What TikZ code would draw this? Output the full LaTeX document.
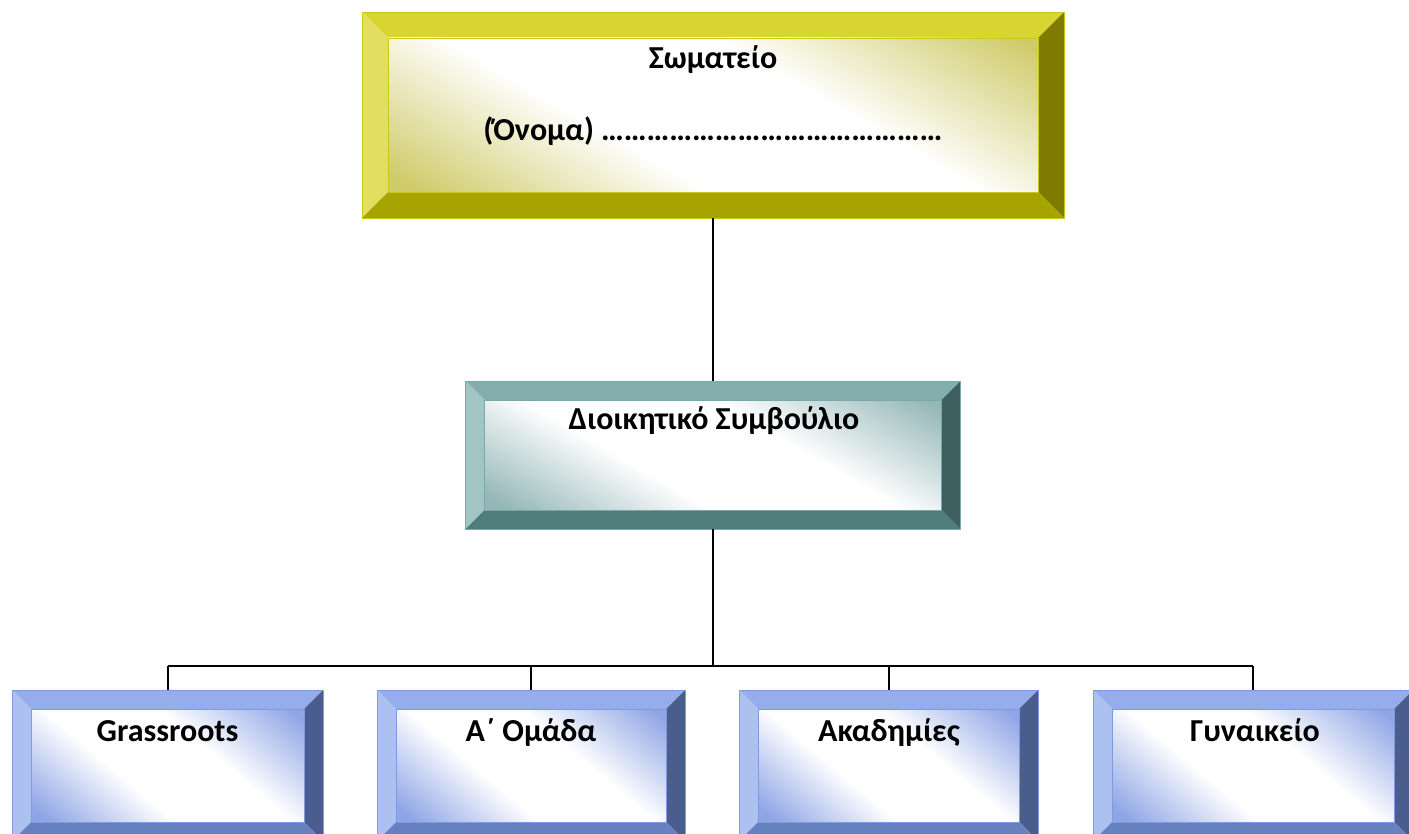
\documentclass[tikz,border=0pt]{standalone}
\usepackage{fontspec}
\setmainfont{Carlito}
\usetikzlibrary{calc}
\definecolor{yTop}{HTML}{D9D530}
\definecolor{yLeft}{HTML}{E2DE62}
\definecolor{yRight}{HTML}{7F7B00}
\definecolor{yBot}{HTML}{A7A300}
\definecolor{yBord}{HTML}{C9C71A}
\definecolor{yTint}{HTML}{CFCB6A}
\definecolor{tTop}{HTML}{84AEAE}
\definecolor{tLeft}{HTML}{A1C4C4}
\definecolor{tRight}{HTML}{3E5F5F}
\definecolor{tBot}{HTML}{507C7C}
\definecolor{tBord}{HTML}{7AA8A8}
\definecolor{tTint}{HTML}{93B6B6}
\definecolor{bTop}{HTML}{95ADEA}
\definecolor{bLeft}{HTML}{ADC1F0}
\definecolor{bRight}{HTML}{4A5D8E}
\definecolor{bBot}{HTML}{6681C0}
\definecolor{bBord}{HTML}{7F9BE0}
\definecolor{bTint}{HTML}{8FA6E6}
\pgfdeclarehorizontalshading{yshade}{100bp}{color(0bp)=(yTint); color(18bp)=(yTint); color(40bp)=(white); color(60bp)=(white); color(83bp)=(yTint); color(100bp)=(yTint)}
\pgfdeclarehorizontalshading{tshade}{100bp}{color(0bp)=(tTint); color(18bp)=(tTint); color(40bp)=(white); color(60bp)=(white); color(83bp)=(tTint); color(100bp)=(tTint)}
\pgfdeclarehorizontalshading{bshade}{100bp}{color(0bp)=(bTint); color(18bp)=(bTint); color(40bp)=(white); color(60bp)=(white); color(83bp)=(bTint); color(100bp)=(bTint)}
\tikzset{
  bevbox/.style n args={8}{
    rectangle, inner sep=0pt, draw=#7, line width=0.6pt,
    path picture={
      \path (path picture bounding box.south west) coordinate (oSW)
            (path picture bounding box.north east) coordinate (oNE)
            (path picture bounding box.north west) coordinate (oNW)
            (path picture bounding box.south east) coordinate (oSE);
      \path ([shift={({#1*0.75pt},{#1*0.75pt})}]oSW) coordinate (iSW)
            ([shift={({-#1*0.75pt},{-#1*0.75pt})}]oNE) coordinate (iNE)
            ([shift={({#1*0.75pt},{-#1*0.75pt})}]oNW) coordinate (iNW)
            ([shift={({-#1*0.75pt},{#1*0.75pt})}]oSE) coordinate (iSE);
      \fill[#2] (oNW) -- (oNE) -- (iNE) -- (iNW) -- cycle;
      \fill[#3] (oNW) -- (iNW) -- (iSW) -- (oSW) -- cycle;
      \fill[#4] (oNE) -- (oSE) -- (iSE) -- (iNE) -- cycle;
      \fill[#5] (oSW) -- (iSW) -- (iSE) -- (oSE) -- cycle;
      \shade[shading=#6, shading angle=#8] (iSW) rectangle (iNE);
      \draw[#7, line width=0.5pt] (iSW) rectangle (iNE);
    }
  },
  ybox/.style={bevbox={26}{yTop}{yLeft}{yRight}{yBot}{yshade}{yBord}{60}},
  tbox/.style={bevbox={19}{tTop}{tLeft}{tRight}{tBot}{tshade}{tBord}{60}},
  bbox/.style={bevbox={19}{bTop}{bLeft}{bRight}{bBot}{bshade}{bBord}{50}},
  lbl/.style={anchor=base, inner sep=0pt, font=\fontsize{24}{28}\selectfont\bfseries},
  conn/.style={draw=black, line width=1.5pt},
}
\begin{document}
\begin{tikzpicture}[x=0.75pt, y=-0.75pt]
\useasboundingbox (0,0) rectangle (1409,834);
\clip (0,0) rectangle (1409,834);
% boxes
\node[ybox, minimum width={702*0.75pt}, minimum height={206*0.75pt}] (top) at (713,115) {};
\node[tbox, minimum width={495*0.75pt}, minimum height={148*0.75pt}] (mid) at (713,455) {};
\node[bbox, minimum width={311*0.75pt}, minimum height={151*0.75pt}] (b1) at (167.5,765.5) {};
\node[bbox, minimum width={308*0.75pt}, minimum height={151*0.75pt}] (b2) at (531,765.5) {};
\node[bbox, minimum width={299*0.75pt}, minimum height={151*0.75pt}] (b3) at (888.5,765.5) {};
\node[bbox, minimum width={320*0.75pt}, minimum height={151*0.75pt}] (b4) at (1253,765.5) {};
% labels
\node[lbl] (ttl) at (713,69) {Σωματείο};
\node[lbl] (tname) at (713,141) {(Όνομα) ………………………………………};
\node[lbl] (mtl) at (714,429) {Διοικητικό Συμβούλιο};
\node[lbl] (l1) at (167.5,741) {Grassroots};
\node[lbl] (l2) at (531,741) {Α΄ Ομάδα};
\node[lbl] (l3) at (889,741) {Ακαδημίες};
\node[lbl] (l4) at (1255,741) {Γυναικείο};
% connectors
\coordinate (bus) at (713,666);
\draw[conn] (top.south) -- (mid.north);
\draw[conn, line width=2.2pt] (mid.south) -- (bus);
\draw[conn, line width=1.8pt] (b1.north |- bus) -- (b4.north |- bus);
\draw[conn] (b1.north |- bus) -- (b1.north);
\draw[conn] (b2.north |- bus) -- (b2.north);
\draw[conn] (b3.north |- bus) -- (b3.north);
\draw[conn] (b4.north |- bus) -- (b4.north);
\end{tikzpicture}
\end{document}
